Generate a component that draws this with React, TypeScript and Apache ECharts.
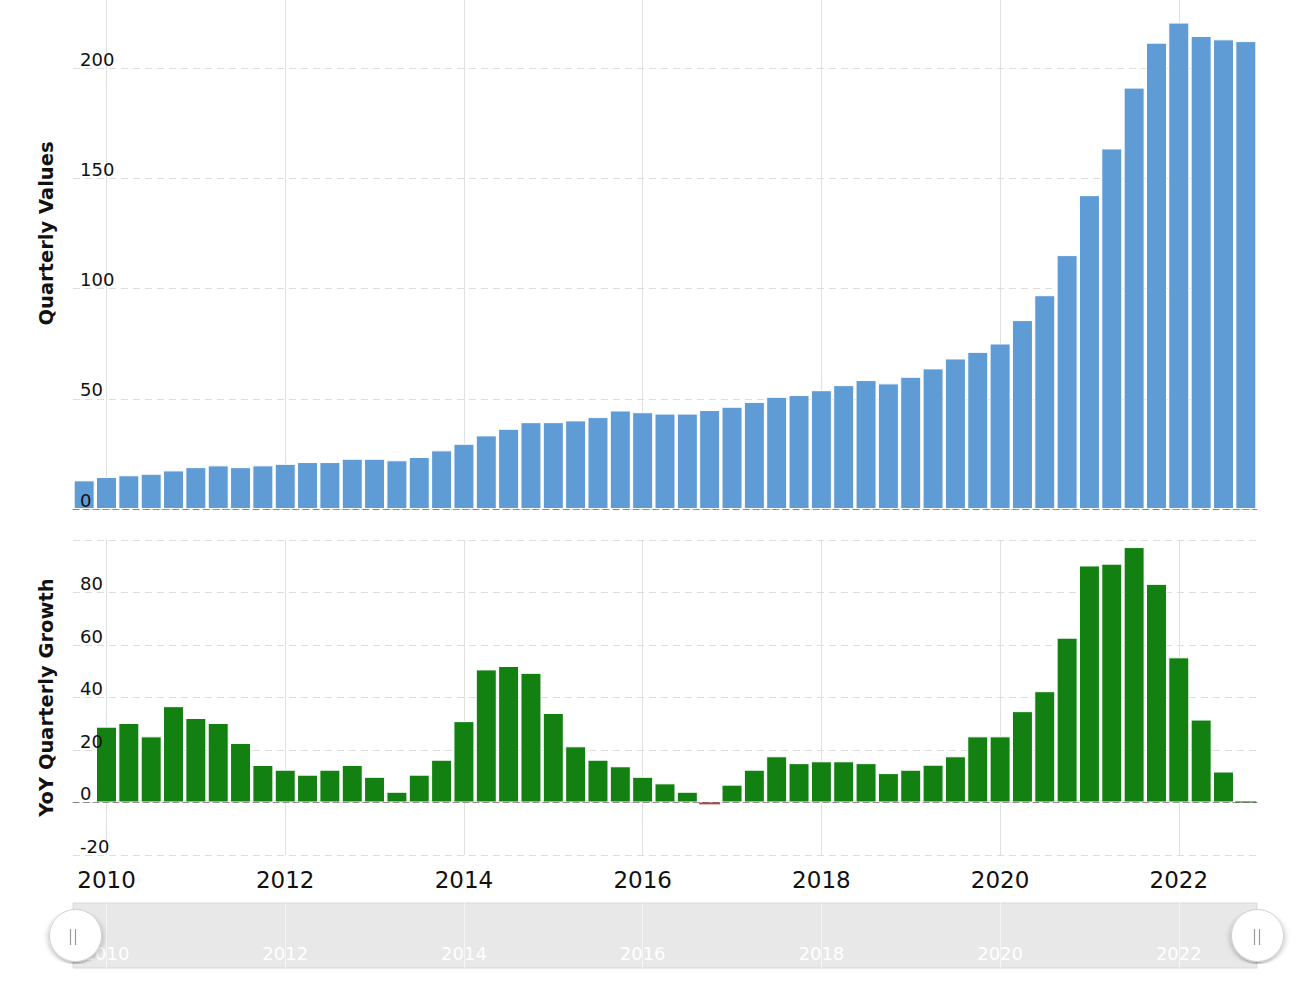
import React, { useEffect, useRef } from 'react';
import * as echarts from 'echarts';

const categories = [
  '2009-09-30', '2009-12-31',
  '2010-03-31', '2010-06-30', '2010-09-30', '2010-12-31',
  '2011-03-31', '2011-06-30', '2011-09-30', '2011-12-31',
  '2012-03-31', '2012-06-30', '2012-09-30', '2012-12-31',
  '2013-03-31', '2013-06-30', '2013-09-30', '2013-12-31',
  '2014-03-31', '2014-06-30', '2014-09-30', '2014-12-31',
  '2015-03-31', '2015-06-30', '2015-09-30', '2015-12-31',
  '2016-03-31', '2016-06-30', '2016-09-30', '2016-12-31',
  '2017-03-31', '2017-06-30', '2017-09-30', '2017-12-31',
  '2018-03-31', '2018-06-30', '2018-09-30', '2018-12-31',
  '2019-03-31', '2019-06-30', '2019-09-30', '2019-12-31',
  '2020-03-31', '2020-06-30', '2020-09-30', '2020-12-31',
  '2021-03-31', '2021-06-30', '2021-09-30', '2021-12-31',
  '2022-03-31', '2022-06-30', '2022-09-30',
];

const quarterlyValues = [
  13.0, 14.5,
  15.3, 16.0, 17.5, 19.0,
  19.8, 19.0, 19.8, 20.5,
  21.3, 21.3, 22.8, 22.8,
  22.1, 23.6, 26.6, 29.6,
  33.4, 36.4, 39.4, 39.4,
  40.2, 41.7, 44.7, 43.9,
  43.3, 43.3, 44.9, 46.4,
  48.6, 50.9, 51.7, 53.9,
  56.2, 58.5, 57.0, 60.0,
  63.8, 68.3, 71.3, 75.1,
  85.7, 97.0, 115.2, 142.4,
  163.6, 191.2, 211.6, 220.7,
  214.6, 213.1, 212.3,
];

const yoyGrowth: (number | null)[] = [
  null, 28.9,
  30.3, 25.2, 36.7, 32.2,
  30.3, 22.7, 14.3, 12.5,
  10.6, 12.5, 14.3, 9.8,
  4.1, 10.6, 16.3, 31.0,
  50.7, 52.0, 49.4, 34.1,
  21.4, 16.3, 13.8, 9.8,
  7.3, 4.1, -0.7, 6.8,
  12.5, 17.6, 15.0, 15.7,
  15.7, 15.0, 11.2, 12.5,
  14.4, 17.6, 25.2, 25.2,
  34.8, 42.4, 62.8, 90.3,
  91.0, 97.3, 83.3, 55.3,
  31.6, 11.8, 0.4,
];

const yearTickCategories = ['2009-12-31', '2011-12-31', '2013-12-31', '2015-12-31', '2017-12-31', '2019-12-31', '2021-12-31'];
const yearTickLabels = ['2010', '2012', '2014', '2016', '2018', '2020', '2022'];

const FONT = '"DejaVu Sans", Verdana, sans-serif';
const BLUE = '#5f9bd4';
const GREEN = '#128112';
const RED = '#d0343f';
const GRID_LEFT = 73;
const GRID_RIGHT = 42;
const CHART_W = 1299;

export default function App() {
  const ref = useRef<HTMLDivElement>(null);

  useEffect(() => {
    if (!ref.current) return;
    const chart = echarts.init(ref.current, null, { renderer: 'svg' });

    const isYearTick = (_i: number, v: string) => yearTickCategories.indexOf(v) >= 0;
    const yearLabel = (v: string) => {
      const k = yearTickCategories.indexOf(v);
      return k >= 0 ? yearTickLabels[k] : '';
    };

    const vSplit = {
      show: true,
      interval: isYearTick,
      alignWithLabel: true,
      lineStyle: { color: '#e0e0e0', width: 1 },
    };
    const hSplit = { show: true, lineStyle: { color: '#dddddd', type: [7, 5], width: 1 } };
    const zeroLine = { show: true, onZero: true, lineStyle: { color: 'rgba(60,60,60,0.55)', type: [6, 4], width: 1 } };
    const nameStyle = { fontFamily: FONT, fontSize: 19.5, fontWeight: 'bold' as const, color: '#111' };
    const yLabel = { inside: true, verticalAlign: 'bottom' as const, margin: 7, fontSize: 18, color: '#111', fontFamily: FONT };

    const growthData = yoyGrowth.map((v) => {
      if (v === null) return null;
      if (Math.abs(v) < 1) {
        return { value: v, itemStyle: { color: v < 0 ? RED : GREEN, borderWidth: 0 } };
      }
      return v;
    });

    const handleXs = [GRID_LEFT, CHART_W - GRID_RIGHT];

    chart.setOption({
      animation: false,
      backgroundColor: '#ffffff',
      textStyle: { fontFamily: FONT },
      grid: [
        { left: GRID_LEFT, right: GRID_RIGHT, top: -42, bottom: 481, outerBoundsMode: 'none', containLabel: false },
        { left: GRID_LEFT, right: GRID_RIGHT, top: 540, bottom: 135, outerBoundsMode: 'none', containLabel: false },
        { left: GRID_LEFT, right: GRID_RIGHT, top: 903, height: 65, outerBoundsMode: 'none', containLabel: false, show: true, backgroundColor: '#e8e8e8', borderColor: '#d8d8d8', borderWidth: 1 },
      ],
      xAxis: [
        { type: 'category', gridIndex: 0, data: categories, position: 'bottom', axisLine: { show: false }, axisTick: { show: false }, axisLabel: { show: false }, splitLine: vSplit },
        {
          type: 'category', gridIndex: 1, data: categories, position: 'bottom',
          axisLine: { show: false, onZero: false }, axisTick: { show: false },
          axisLabel: { interval: isYearTick, formatter: yearLabel, fontSize: 23, color: '#111', fontFamily: FONT, margin: 13 },
          splitLine: vSplit,
        },
        {
          type: 'category', gridIndex: 2, data: categories, position: 'bottom',
          axisLine: { show: false }, axisTick: { show: false },
          axisLabel: { inside: true, interval: isYearTick, formatter: yearLabel, fontSize: 18, color: '#ffffff', fontFamily: FONT, margin: 6 },
          splitLine: { show: true, interval: isYearTick, alignWithLabel: true, lineStyle: { color: 'rgba(255,255,255,0.55)', width: 1 } },
        },
        { type: 'category', gridIndex: 0, data: categories, position: 'bottom', z: 3, axisLine: zeroLine, axisTick: { show: false }, axisLabel: { show: false }, splitLine: { show: false } },
        { type: 'category', gridIndex: 1, data: categories, position: 'bottom', z: 3, axisLine: zeroLine, axisTick: { show: false }, axisLabel: { show: false }, splitLine: { show: false } },
      ],
      yAxis: [
        {
          type: 'value', gridIndex: 0, position: 'left', min: 0, max: 250, interval: 50,
          axisLine: { show: false }, axisTick: { show: false }, axisLabel: { show: false }, splitLine: hSplit,
          name: 'Quarterly Values', nameLocation: 'middle', nameGap: 17, nameTextStyle: nameStyle,
        },
        {
          type: 'value', gridIndex: 1, position: 'left', min: -20, max: 100, interval: 20,
          axisLine: { show: false }, axisTick: { show: false }, axisLabel: { show: false }, splitLine: hSplit,
          name: 'YoY Quarterly Growth', nameLocation: 'middle', nameGap: 17, nameTextStyle: nameStyle,
        },
        { type: 'value', gridIndex: 2, show: false, min: 0, max: 1 },
        {
          type: 'value', gridIndex: 0, position: 'left', min: 0, max: 250, interval: 50, z: 5,
          axisLine: { show: false }, axisTick: { show: false }, splitLine: { show: false },
          axisLabel: { ...yLabel, formatter: (v: number) => (v === 250 ? '' : String(v)) },
        },
        {
          type: 'value', gridIndex: 1, position: 'left', min: -20, max: 100, interval: 20, z: 5,
          axisLine: { show: false }, axisTick: { show: false }, splitLine: { show: false },
          axisLabel: { ...yLabel, formatter: (v: number) => (v === 100 ? '' : String(v)) },
        },
      ],
      dataZoom: [
        {
          type: 'slider', xAxisIndex: [0, 1, 2, 3, 4], start: 0, end: 100,
          left: GRID_LEFT, right: GRID_RIGHT, top: 903, height: 65,
          backgroundColor: 'rgba(0,0,0,0)', borderColor: 'rgba(0,0,0,0)', fillerColor: 'rgba(0,0,0,0)',
          showDataShadow: false, showDetail: false, brushSelect: false,
          moveHandleSize: 0, moveHandleStyle: { opacity: 0 },
          dataBackground: { lineStyle: { opacity: 0 }, areaStyle: { opacity: 0 } },
          selectedDataBackground: { lineStyle: { opacity: 0 }, areaStyle: { opacity: 0 } },
          handleIcon: 'circle', handleSize: '80%',
          handleStyle: { color: '#ffffff', borderColor: '#d0d0d0', borderWidth: 1, shadowBlur: 6, shadowColor: 'rgba(0,0,0,0.28)', shadowOffsetY: 2 },
          emphasis: { handleStyle: { color: '#ffffff', borderColor: '#d0d0d0' } },
        },
      ],
      graphic: handleXs.flatMap((cx) => [
        { type: 'line', z: 100, silent: true, shape: { x1: cx - 2.5, y1: 929, x2: cx - 2.5, y2: 945 }, style: { stroke: '#9a9a9a', lineWidth: 1.2 } },
        { type: 'line', z: 100, silent: true, shape: { x1: cx + 2.5, y1: 929, x2: cx + 2.5, y2: 945 }, style: { stroke: '#9a9a9a', lineWidth: 1.2 } },
      ]),
      series: [
        {
          type: 'bar', name: 'Quarterly Values', xAxisIndex: 0, yAxisIndex: 0, data: quarterlyValues,
          barCategoryGap: '6%', itemStyle: { color: BLUE, borderColor: '#ffffff', borderWidth: 1 },
        },
        {
          type: 'bar', name: 'YoY Quarterly Growth', xAxisIndex: 1, yAxisIndex: 1, data: growthData,
          barCategoryGap: '6%', itemStyle: { color: GREEN, borderColor: '#ffffff', borderWidth: 1 },
        },
      ],
    });

    return () => chart.dispose();
  }, []);

  return <div ref={ref} style={{ position: 'absolute', left: 0, top: 0, width: CHART_W, height: 990 }} />;
}
